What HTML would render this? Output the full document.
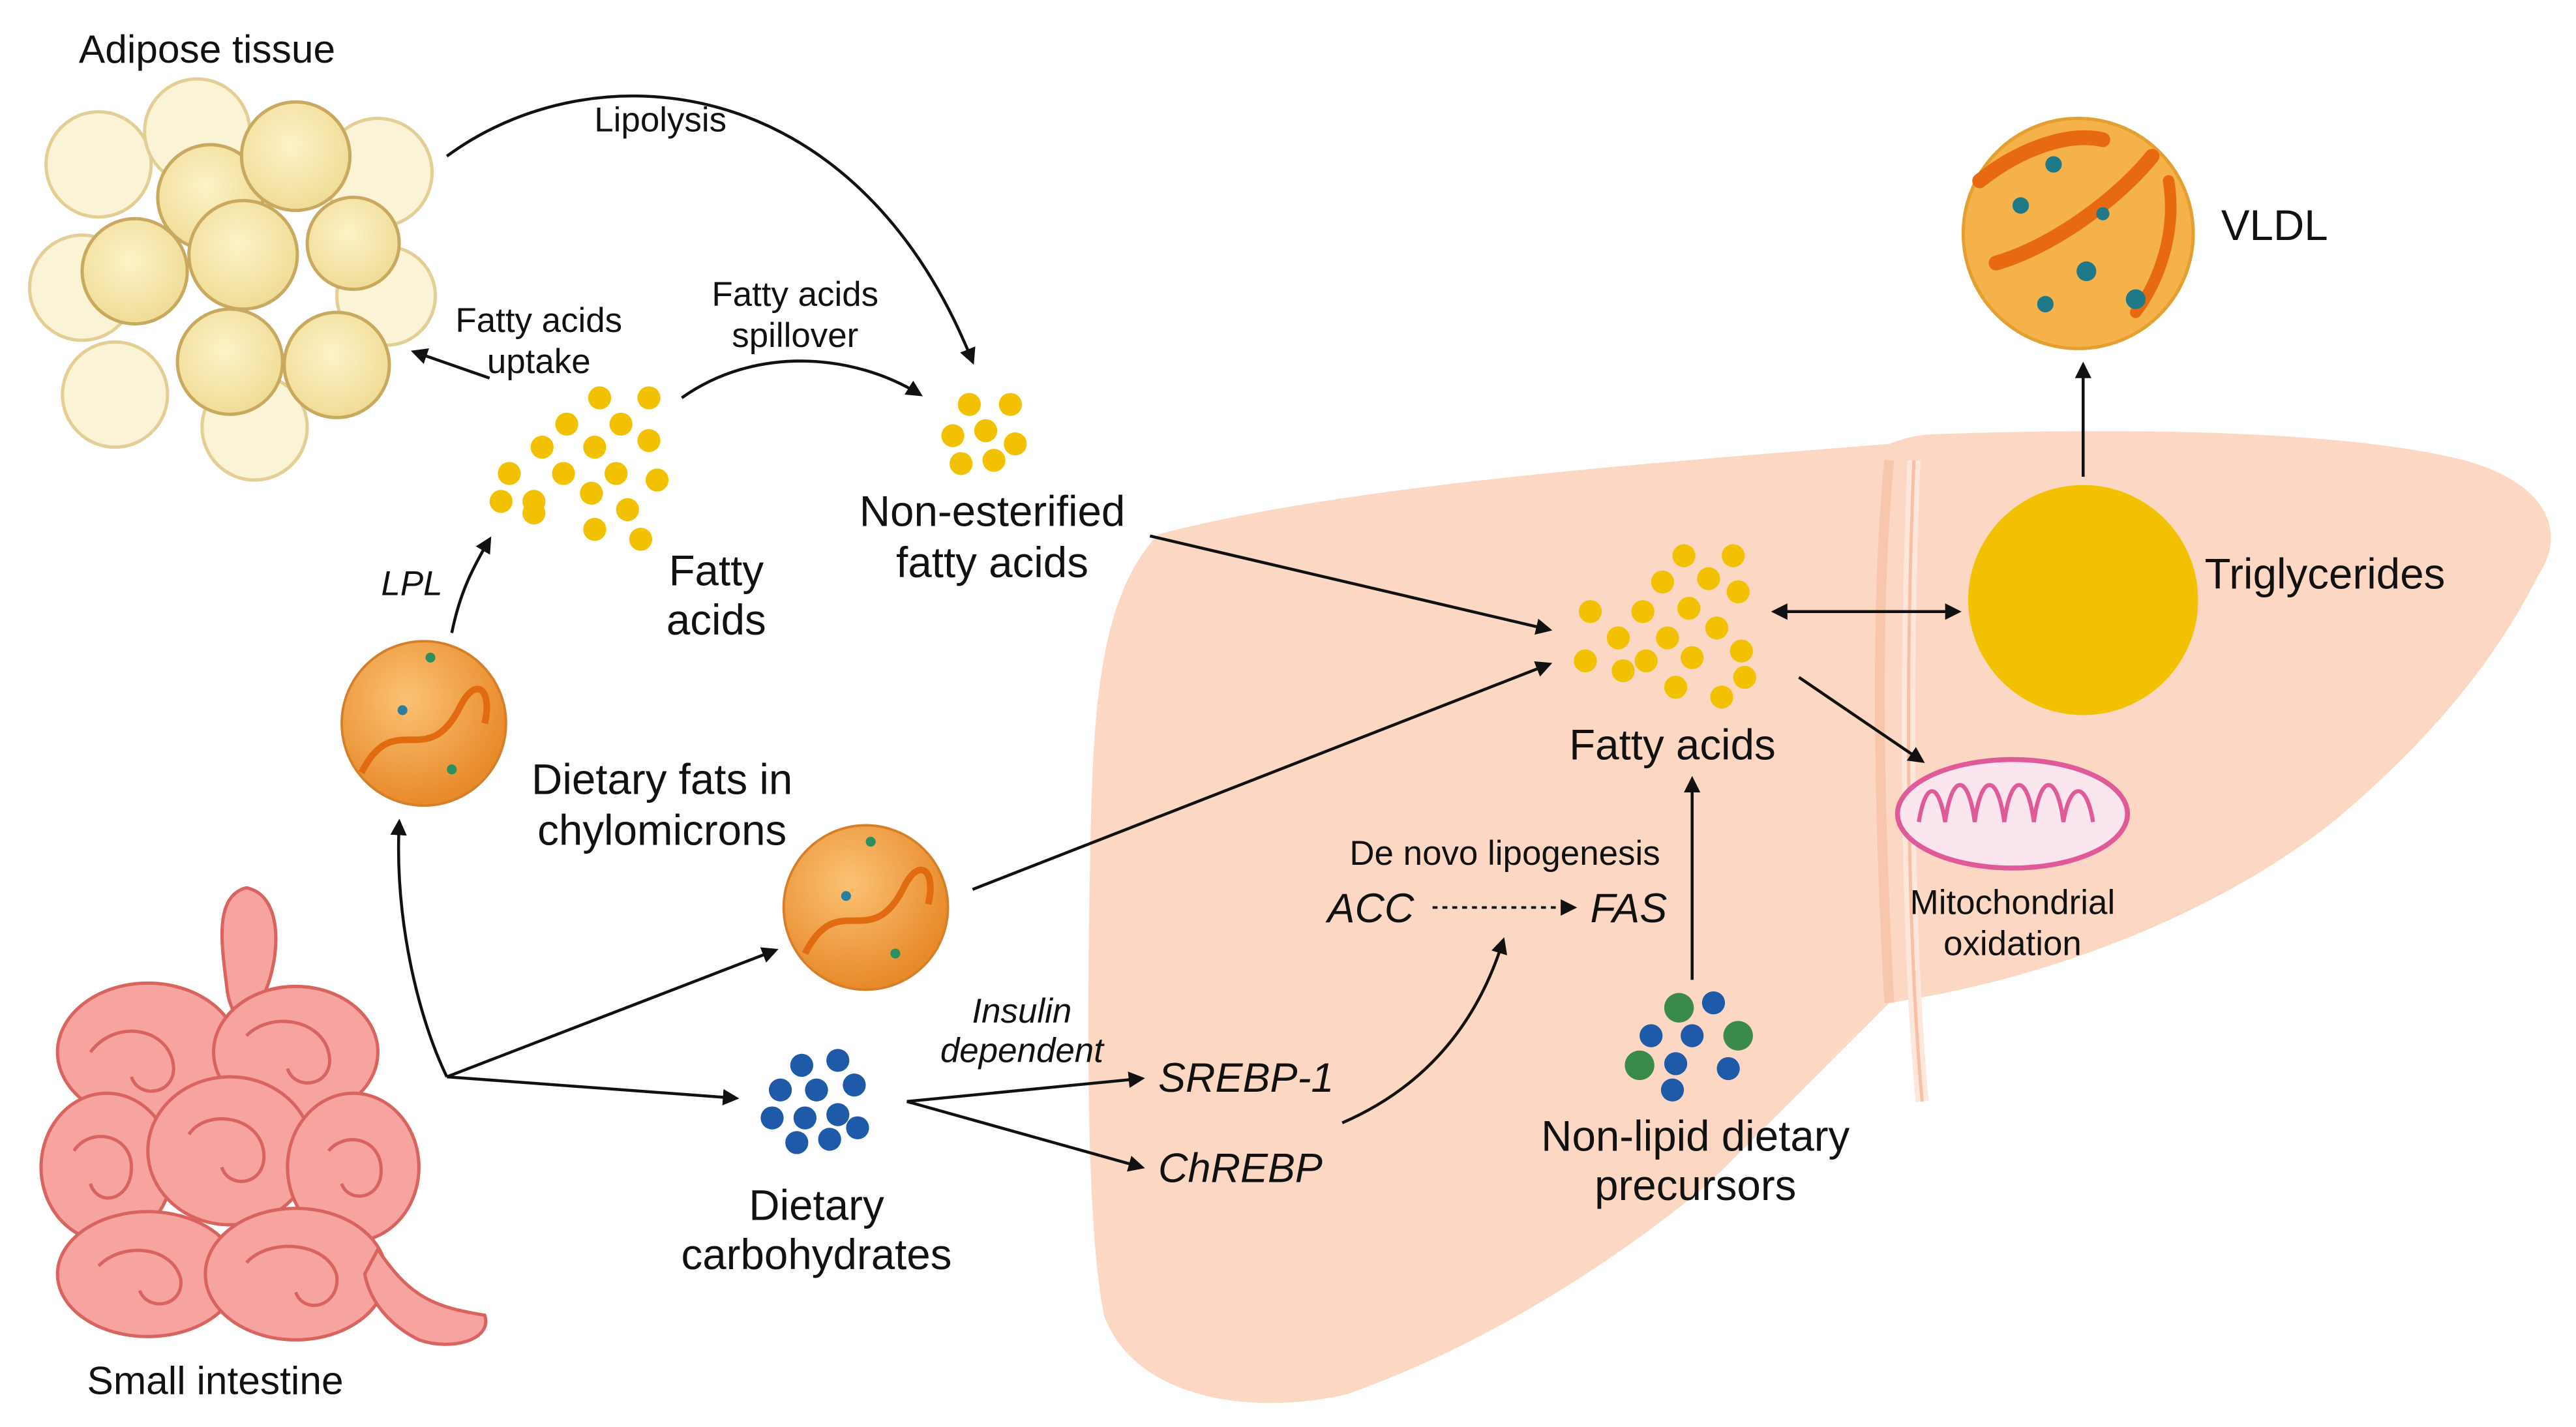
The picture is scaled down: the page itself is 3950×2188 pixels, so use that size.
<!DOCTYPE html>
<html><head><meta charset="utf-8"><style>
html,body{margin:0;padding:0;background:#fff;}
svg{display:block;}
text{font-family:"Liberation Sans",sans-serif;fill:#111;}
</style></head><body>
<svg width="3950" height="2188" viewBox="0 0 1568 868" preserveAspectRatio="none" xmlns="http://www.w3.org/2000/svg">
<defs>
<marker id="ah" markerWidth="10" markerHeight="10" refX="8" refY="5" orient="auto" markerUnits="userSpaceOnUse"><path d="M0,0 L10,5 L0,10 Z" fill="#111"/></marker>
<marker id="ahs" markerWidth="10" markerHeight="10" refX="2" refY="5" orient="auto" markerUnits="userSpaceOnUse"><path d="M10,0 L0,5 L10,10 Z" fill="#111"/></marker>
<radialGradient id="chy" cx="40%" cy="35%" r="65%"><stop offset="0" stop-color="#fbc274"/><stop offset="1" stop-color="#e8892a"/></radialGradient>
<radialGradient id="cell" cx="45%" cy="40%" r="60%"><stop offset="0" stop-color="#fdf3c8"/><stop offset="1" stop-color="#f0dc96"/></radialGradient>
</defs>

<!-- Liver -->
<path d="M705,325 C820,295 1000,282 1150,270 C1160,266 1170,264 1180,264 C1300,260 1430,262 1500,280 C1545,292 1565,320 1545,350 C1520,400 1480,450 1420,500 C1350,555 1250,595 1150,610 C1120,640 1080,680 1040,720 C980,770 900,820 820,848 C760,862 690,850 672,800 C660,740 662,600 664,500 C666,420 672,360 705,325 Z" fill="#fcd8c4"/>
<path d="M1150,280 C1140,380 1145,520 1150,610" fill="none" stroke="#f8c6ad" stroke-width="6"/>
<path d="M1165,280 C1160,400 1160,560 1170,670" fill="none" stroke="#fde7dc" stroke-width="8"/>
<path d="M1165,280 C1160,400 1160,560 1170,670" fill="none" stroke="#f6c0a6" stroke-width="2"/>

<!-- Adipose tissue -->
<g stroke="#e3cf95" stroke-width="2">
<circle cx="60" cy="100" r="32" fill="#fbf3d6"/>
<circle cx="230" cy="105" r="33" fill="#fbf3d6"/>
<circle cx="50" cy="175" r="32" fill="#fbf3d6"/>
<circle cx="70" cy="240" r="32" fill="#fbf3d6"/>
<circle cx="155" cy="260" r="32" fill="#fbf3d6"/>
<circle cx="235" cy="180" r="30" fill="#fbf3d6"/>
<circle cx="120" cy="80" r="32" fill="#fbf3d6"/>
<circle cx="128" cy="120" r="32" fill="url(#cell)" stroke="#c9a960"/>
<circle cx="180" cy="95" r="33" fill="url(#cell)" stroke="#c9a960"/>
<circle cx="82" cy="165" r="32" fill="url(#cell)" stroke="#c9a960"/>
<circle cx="148" cy="155" r="33" fill="url(#cell)" stroke="#c9a960"/>
<circle cx="215" cy="148" r="28" fill="url(#cell)" stroke="#c9a960"/>
<circle cx="140" cy="220" r="32" fill="url(#cell)" stroke="#c9a960"/>
<circle cx="205" cy="222" r="32" fill="url(#cell)" stroke="#c9a960"/>
</g>
<text x="48" y="38" font-size="24">Adipose tissue</text>

<!-- Intestine -->
<g fill="#f7a3a0" stroke="#d9645f" stroke-width="2">
<path d="M150,540 C175,545 170,590 158,610 C150,625 140,620 138,600 C135,575 130,545 150,540 Z"/>
<ellipse cx="90" cy="640" rx="55" ry="42"/>
<ellipse cx="180" cy="640" rx="50" ry="40"/>
<ellipse cx="65" cy="710" rx="40" ry="45"/>
<ellipse cx="140" cy="700" rx="50" ry="45"/>
<ellipse cx="215" cy="710" rx="40" ry="45"/>
<ellipse cx="90" cy="775" rx="55" ry="38"/>
<ellipse cx="180" cy="775" rx="55" ry="40"/>
<path d="M230,760 C250,790 265,795 295,800 C300,815 275,822 255,815 C235,805 225,790 222,775 Z"/>
</g>
<g fill="none" stroke="#d9645f" stroke-width="2">
<path d="M55,640 C70,620 100,625 105,645 C110,665 85,670 80,655"/>
<path d="M150,630 C165,615 195,620 200,640 C205,660 180,665 175,650"/>
<path d="M45,700 C55,685 80,690 80,710 C80,730 60,735 55,720"/>
<path d="M115,690 C125,675 155,678 160,698 C165,720 140,725 135,710"/>
<path d="M200,700 C210,688 232,692 232,712 C232,730 212,732 208,720"/>
<path d="M60,770 C75,755 105,758 110,778 C112,795 90,798 85,785"/>
<path d="M150,768 C165,752 200,756 205,776 C207,795 185,800 180,786"/>
</g>
<text x="53" y="848" font-size="24">Small intestine</text>

<!-- Fatty acids cluster near adipose -->
<g fill="#f2c200">
<circle cx="365" cy="242" r="7"/><circle cx="395" cy="242" r="7"/>
<circle cx="345" cy="258" r="7"/><circle cx="378" cy="258" r="7"/>
<circle cx="330" cy="272" r="7"/><circle cx="362" cy="272" r="7"/><circle cx="395" cy="268" r="7"/>
<circle cx="310" cy="288" r="7"/><circle cx="343" cy="288" r="7"/><circle cx="375" cy="288" r="7"/><circle cx="400" cy="292" r="7"/>
<circle cx="305" cy="305" r="7"/><circle cx="325" cy="305" r="7"/><circle cx="360" cy="300" r="7"/><circle cx="382" cy="310" r="7"/>
<circle cx="325" cy="312" r="7"/><circle cx="362" cy="322" r="7"/><circle cx="390" cy="328" r="7"/>
</g>
<text x="436" y="356" font-size="26" text-anchor="middle">Fatty</text>
<text x="436" y="386" font-size="26" text-anchor="middle">acids</text>

<!-- NEFA cluster -->
<g fill="#f2c200">
<circle cx="590" cy="246" r="7"/><circle cx="615" cy="246" r="7"/>
<circle cx="580" cy="265" r="7"/><circle cx="600" cy="262" r="7"/>
<circle cx="618" cy="270" r="7"/><circle cx="585" cy="282" r="7"/><circle cx="605" cy="280" r="7"/>
</g>
<text x="604" y="320" font-size="26" text-anchor="middle">Non-esterified</text>
<text x="604" y="351" font-size="26" text-anchor="middle">fatty acids</text>

<!-- Chylomicrons -->
<g>
<circle cx="258" cy="440" r="50" fill="url(#chy)" stroke="#d67f2a" stroke-width="1.5"/>
<path d="M220,470 C240,430 260,470 280,430 C290,410 300,420 295,440" fill="none" stroke="#e06b10" stroke-width="4"/>
<circle cx="245" cy="432" r="3" fill="#2a7fa0"/><circle cx="275" cy="468" r="3" fill="#2a9060"/><circle cx="262" cy="400" r="3" fill="#2a9060"/>
<circle cx="527" cy="552" r="50" fill="url(#chy)" stroke="#d67f2a" stroke-width="1.5"/>
<path d="M490,580 C510,540 530,580 550,540 C560,520 570,530 565,550" fill="none" stroke="#e06b10" stroke-width="4"/>
<circle cx="515" cy="545" r="3" fill="#2a7fa0"/><circle cx="545" cy="580" r="3" fill="#2a9060"/><circle cx="530" cy="512" r="3" fill="#2a9060"/>
</g>
<text x="403" y="483" font-size="26" text-anchor="middle">Dietary fats in</text>
<text x="403" y="514" font-size="26" text-anchor="middle">chylomicrons</text>

<!-- Carbs -->
<g fill="#1e5aa8">
<circle cx="488" cy="648" r="7"/><circle cx="510" cy="645" r="7"/>
<circle cx="475" cy="663" r="7"/><circle cx="497" cy="663" r="7"/><circle cx="520" cy="660" r="7"/>
<circle cx="470" cy="680" r="7"/><circle cx="490" cy="680" r="7"/><circle cx="510" cy="678" r="7"/>
<circle cx="485" cy="695" r="7"/><circle cx="505" cy="693" r="7"/><circle cx="522" cy="686" r="7"/>
</g>
<text x="497" y="742" font-size="26" text-anchor="middle">Dietary</text>
<text x="497" y="772" font-size="26" text-anchor="middle">carbohydrates</text>

<!-- Liver fatty acids cluster -->
<g fill="#f2c200">
<circle cx="1025" cy="338" r="7"/><circle cx="1055" cy="338" r="7"/>
<circle cx="1012" cy="354" r="7"/><circle cx="1040" cy="352" r="7"/>
<circle cx="968" cy="372" r="7"/><circle cx="1000" cy="372" r="7"/><circle cx="1028" cy="370" r="7"/><circle cx="1058" cy="360" r="7"/>
<circle cx="985" cy="388" r="7"/><circle cx="1015" cy="388" r="7"/><circle cx="1045" cy="382" r="7"/>
<circle cx="965" cy="402" r="7"/><circle cx="1002" cy="402" r="7"/><circle cx="1030" cy="400" r="7"/><circle cx="1060" cy="396" r="7"/>
<circle cx="988" cy="408" r="7"/><circle cx="1020" cy="418" r="7"/><circle cx="1048" cy="424" r="7"/><circle cx="1062" cy="412" r="7"/>
</g>
<text x="1018" y="462" font-size="26" text-anchor="middle">Fatty acids</text>

<!-- Triglycerides -->
<circle cx="1268" cy="365" r="70" fill="#f2c200"/>
<text x="1342" y="358" font-size="26">Triglycerides</text>

<!-- VLDL -->
<circle cx="1265" cy="142" r="70" fill="#f5b24a" stroke="#e3a030" stroke-width="2"/>
<path d="M1205,110 C1230,90 1260,80 1280,85" fill="none" stroke="#e86a10" stroke-width="9" stroke-linecap="round"/>
<path d="M1215,160 C1250,150 1290,120 1310,95" fill="none" stroke="#e86a10" stroke-width="9" stroke-linecap="round"/>
<path d="M1320,110 C1325,140 1315,170 1300,190" fill="none" stroke="#e86a10" stroke-width="7" stroke-linecap="round"/>
<g fill="#1e7a86"><circle cx="1250" cy="100" r="5"/><circle cx="1230" cy="125" r="5"/><circle cx="1270" cy="165" r="6"/><circle cx="1300" cy="182" r="6"/><circle cx="1245" cy="185" r="5"/><circle cx="1280" cy="130" r="4"/></g>
<text x="1352" y="146" font-size="26">VLDL</text>

<!-- Mitochondrion -->
<ellipse cx="1225" cy="495" rx="70" ry="33" fill="#fbe6ef" stroke="#e05a9a" stroke-width="3"/>
<path d="M1168,500 C1172,475 1180,475 1184,500 C1188,470 1198,470 1202,500 C1206,470 1216,470 1220,500 C1224,470 1234,470 1238,500 C1242,470 1252,470 1256,500 C1260,475 1270,475 1274,500" fill="none" stroke="#e05a9a" stroke-width="2.5"/>
<text x="1225" y="556" font-size="21" text-anchor="middle">Mitochondrial</text>
<text x="1225" y="581" font-size="21" text-anchor="middle">oxidation</text>

<!-- Non-lipid precursors -->
<g>
<circle cx="1022" cy="613" r="9" fill="#3a8a4a"/><circle cx="1043" cy="610" r="7" fill="#1e5aa8"/>
<circle cx="1005" cy="630" r="7" fill="#1e5aa8"/><circle cx="1030" cy="630" r="7" fill="#1e5aa8"/><circle cx="1058" cy="630" r="9" fill="#3a8a4a"/>
<circle cx="998" cy="648" r="9" fill="#3a8a4a"/><circle cx="1020" cy="647" r="7" fill="#1e5aa8"/><circle cx="1052" cy="650" r="7" fill="#1e5aa8"/>
<circle cx="1018" cy="663" r="7" fill="#1e5aa8"/>
</g>
<text x="1032" y="700" font-size="26" text-anchor="middle">Non-lipid dietary</text>
<text x="1032" y="730" font-size="26" text-anchor="middle">precursors</text>

<!-- Lipogenesis labels -->
<text x="916" y="526" font-size="21" text-anchor="middle">De novo lipogenesis</text>
<text x="808" y="561" font-size="25" font-style="italic">ACC</text>
<text x="968" y="561" font-size="25" font-style="italic">FAS</text>
<line x1="872" y1="552" x2="958" y2="552" stroke="#111" stroke-width="1.5" stroke-dasharray="3,3" marker-end="url(#ah)"/>
<text x="705" y="664" font-size="25" font-style="italic">SREBP-1</text>
<text x="705" y="719" font-size="25" font-style="italic">ChREBP</text>
<text x="622" y="622" font-size="21" font-style="italic" text-anchor="middle">Insulin</text>
<text x="622" y="646" font-size="21" font-style="italic" text-anchor="middle">dependent</text>

<!-- Other labels -->
<text x="402" y="80" font-size="21" text-anchor="middle">Lipolysis</text>
<text x="328" y="202" font-size="21" text-anchor="middle">Fatty acids</text>
<text x="328" y="227" font-size="21" text-anchor="middle">uptake</text>
<text x="484" y="186" font-size="21" text-anchor="middle">Fatty acids</text>
<text x="484" y="211" font-size="21" text-anchor="middle">spillover</text>
<text x="232" y="362" font-size="21" font-style="italic">LPL</text>

<!-- Arrows -->
<g fill="none" stroke="#111" stroke-width="1.8">
<path d="M272,95 C360,30 520,40 592,220" marker-end="url(#ah)"/>
<path d="M298,230 L252,214" marker-end="url(#ah)"/>
<path d="M415,242 C460,210 520,215 560,240" marker-end="url(#ah)"/>
<path d="M275,385 C280,360 288,345 298,328" marker-end="url(#ah)"/>
<path d="M272,655 C255,620 240,560 243,500" marker-end="url(#ah)"/>
<path d="M272,655 L472,578" marker-end="url(#ah)"/>
<path d="M272,655 L448,668" marker-end="url(#ah)"/>
<path d="M552,670 L695,656" marker-end="url(#ah)"/>
<path d="M552,670 L695,710" marker-end="url(#ah)"/>
<path d="M817,683 C870,660 900,620 915,572" marker-end="url(#ah)"/>
<path d="M700,326 L943,383" marker-end="url(#ah)"/>
<path d="M592,541 L943,404" marker-end="url(#ah)"/>
<path d="M1030,596 L1030,474" marker-end="url(#ah)"/>
<path d="M1080,372 L1192,372" marker-start="url(#ahs)" marker-end="url(#ah)"/>
<path d="M1095,412 L1170,463" marker-end="url(#ah)"/>
<path d="M1268,290 L1268,222" marker-end="url(#ah)"/>
</g>
</svg>
</body></html>
